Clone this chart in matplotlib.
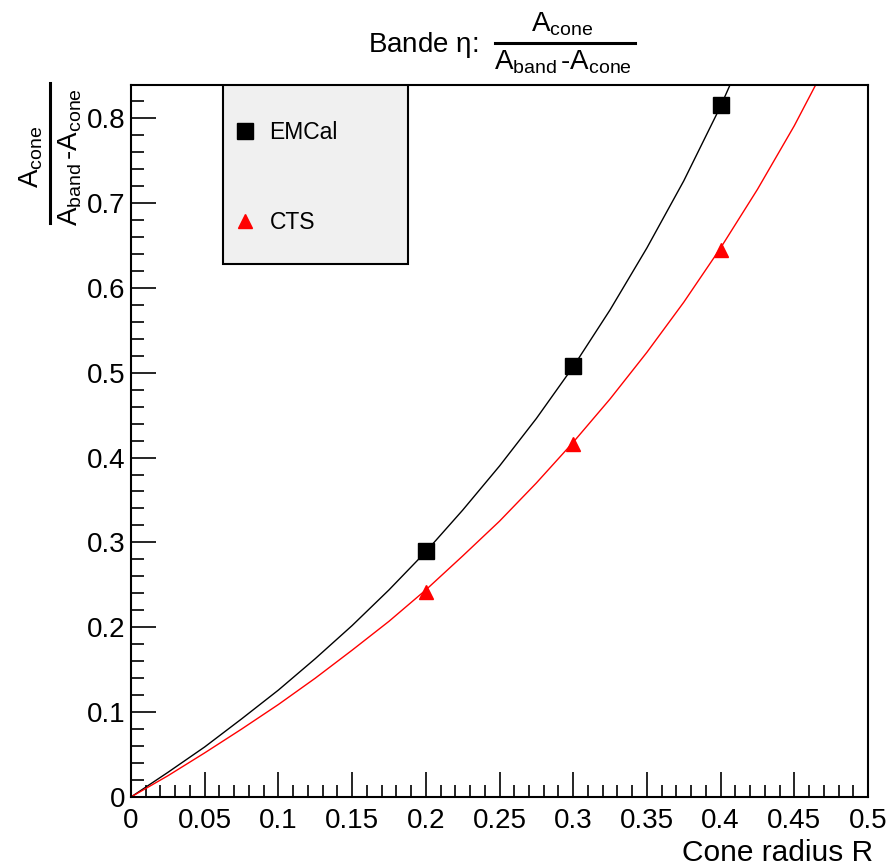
import numpy as np
import matplotlib.pyplot as plt
from matplotlib.patches import Rectangle
from matplotlib.lines import Line2D
from matplotlib.ticker import MultipleLocator

plt.rcParams['font.family'] = ['Liberation Sans', 'DejaVu Sans']
plt.rcParams['mathtext.fontset'] = 'custom'
plt.rcParams['mathtext.rm'] = 'Liberation Sans'
plt.rcParams['mathtext.it'] = 'Liberation Sans'
plt.rcParams['mathtext.default'] = 'regular'

# curves
r_curve = [0, 0.025, 0.05, 0.075, 0.1, 0.125, 0.15, 0.175, 0.2, 0.225, 0.25,
           0.275, 0.3, 0.325, 0.35, 0.375, 0.4, 0.425, 0.45, 0.475]
emcal_curve = [0, 0.029, 0.059, 0.092, 0.126, 0.163, 0.202, 0.244, 0.289, 0.338,
               0.390, 0.446, 0.507, 0.574, 0.647, 0.726, 0.814, 0.912, None, None]
cts_curve = [0, 0.025, 0.052, 0.080, 0.109, 0.140, 0.173, 0.207, 0.244, 0.284,
             0.325, 0.370, 0.418, 0.469, 0.524, 0.583, 0.647, 0.716, 0.791, 0.874]

# points
r_pts = [0.2, 0.3, 0.4]
emcal_pts = [0.290, 0.508, 0.815]
cts_pts = [0.242, 0.416, 0.645]

W, H = 890, 866
fig = plt.figure(figsize=(8.9, 8.66), dpi=100)
ax = fig.add_axes([131 / W, 69 / H, 737 / W, 712 / H])

em_r = [r for r, v in zip(r_curve, emcal_curve) if v is not None]
em_v = [v for v in emcal_curve if v is not None]
ax.plot(em_r, em_v, color='black', lw=1.0)
ax.plot(r_curve, cts_curve, color='red', lw=1.0)
ax.plot(r_pts, emcal_pts, ls='none', marker='s', ms=11.5, color='black', label='EMCal')
ax.plot(r_pts, cts_pts, ls='none', marker='^', ms=10.5, color='red', label='CTS')

ax.set_xlim(0, 0.5)
ax.set_ylim(0, 0.839)
ax.xaxis.set_minor_locator(MultipleLocator(0.01))
ax.yaxis.set_minor_locator(MultipleLocator(0.02))
ax.set_xticks(np.arange(0, 0.51, 0.05))
ax.set_xticklabels(['0', '0.05', '0.1', '0.15', '0.2', '0.25', '0.3', '0.35', '0.4', '0.45', '0.5'])
ax.set_yticks(np.arange(0, 0.81, 0.1))
ax.set_yticklabels(['0', '0.1', '0.2', '0.3', '0.4', '0.5', '0.6', '0.7', '0.8'])
ax.tick_params(which='major', direction='in', length=18, width=1.2, labelsize=20)
ax.tick_params(axis='x', which='major', pad=8)
ax.tick_params(axis='y', which='major', pad=4)
ax.tick_params(which='minor', direction='in', length=9, width=1.2)
for s in ax.spines.values():
    s.set_linewidth(1.5)

# legend box
ax.add_patch(Rectangle((92 / 737, 0.749), 185 / 737, 0.251, transform=ax.transAxes,
                       facecolor='#f0f0f0', edgecolor='black', lw=1.5, zorder=5))
ax.legend(loc='upper left', bbox_to_anchor=(103 / 737, 0.949), frameon=False,
          fontsize=16.5, labelspacing=2.9, handlelength=1.0, handletextpad=0.55,
          borderpad=0, borderaxespad=0).set_zorder(6)

# title: Bande eta: A_cone / (A_band - A_cone)
fig.text(368 / W, 1 - 52 / H, r'Bande $\eta$:', ha='left', va='baseline', fontsize=20)
fig.add_artist(Line2D([495 / W, 635 / W], [1 - 43 / H, 1 - 43 / H], color='black', lw=2.2))
fig.text(562 / W, 1 - 31 / H, r'$A_{cone}$', ha='center', va='baseline', fontsize=20)
fig.text(563 / W, 1 - 70 / H, r'$A_{band}\,\text{-}A_{cone}$', ha='center', va='baseline', fontsize=20)

# y title, rotated fraction
fig.add_artist(Line2D([50 / W, 50 / W], [1 - 83 / H, 1 - 223 / H], color='black', lw=2.2))
fig.text(45 / W, 1 - 157 / H, r'$A_{cone}$', ha='right', va='center', rotation=90, fontsize=20)
fig.text(56 / W, 1 - 157 / H, r'$A_{band}\,\text{-}A_{cone}$', ha='left', va='center', rotation=90, fontsize=20)

fig.text(873 / W, 1 - 853 / H, 'Cone radius R', ha='right', va='center', fontsize=21.5)

fig.savefig('out.png', dpi=100)
